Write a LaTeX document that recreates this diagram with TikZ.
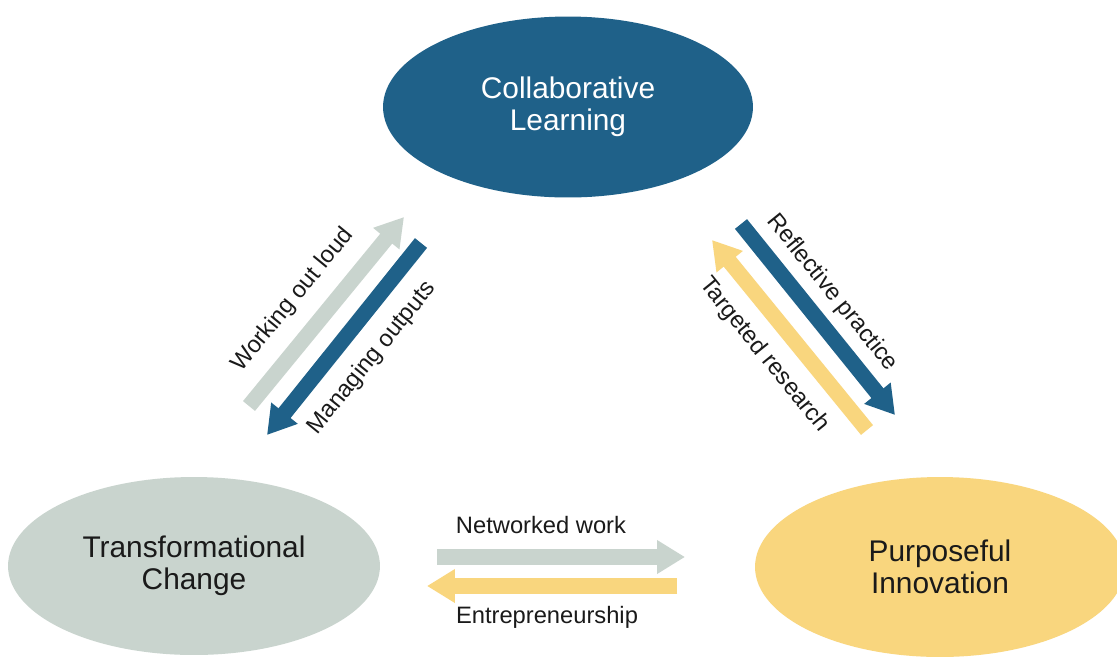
\documentclass[tikz,border=0pt]{standalone}
\usepackage{fontspec}
\setmainfont{Liberation Sans}
\usetikzlibrary{arrows.meta,shapes.geometric}
\definecolor{clblue}{HTML}{1F6189}
\definecolor{tcgrey}{HTML}{C9D4CE}
\definecolor{piyellow}{HTML}{F9D67E}
\definecolor{txtblack}{HTML}{1A1A1A}
\begin{document}
\begin{tikzpicture}
		[	x=0.02cm,y=-0.02cm,
		field/.style={ellipse,draw=none,inner sep=0pt,minimum width=7.4cm,minimum height=3.62cm,align=center,font=\fontsize{17}{18.2}\selectfont},
		flow/.style={line width=0.31cm,-{Triangle[width=0.64cm,length=0.56cm]}},
		lbl/.style={draw=none,fill=none,inner sep=0pt,text=txtblack,font=\fontsize{13.5}{15}\selectfont}
		]
		\clip (0,0) rectangle (1117,657);
		\fill[white] (0,0) rectangle (1117,657);

		\node[field,fill=clblue,text=white] (cl) at (568,107){Collaborative\\Learning};
		\node[field,fill=tcgrey,text=txtblack,minimum width=7.44cm,minimum height=3.56cm] (tc) at (194,566){Transformational\\Change};
		\node[field,fill=piyellow,text=txtblack,minimum height=3.6cm] (pi) at (940,567){Purposeful\\Innovation};

		% arrow ends
		\coordinate (wol-s) at (249,406); \coordinate (wol-e) at (404,217);
		\coordinate (mo-s) at (421,243); \coordinate (mo-e) at (267,435);
		\coordinate (rp-s) at (741,224); \coordinate (rp-e) at (895,415);
		\coordinate (tr-s) at (867,430); \coordinate (tr-e) at (712,240);
		\coordinate (nw-s) at (437,557); \coordinate (nw-e) at (685,557);
		\coordinate (en-s) at (677,586); \coordinate (en-e) at (427,586);

		\draw[flow,tcgrey] (wol-s) -- (wol-e);
		\draw[flow,clblue] (mo-s) -- (mo-e);
		\draw[flow,clblue] (rp-s) -- (rp-e);
		\draw[flow,piyellow] (tr-s) -- (tr-e);
		\draw[flow,tcgrey] (nw-s) -- (nw-e);
		\draw[flow,piyellow] (en-s) -- (en-e);

\node[lbl,rotate=50.6] (wol) at (293,300){Working out loud};
\node[lbl,rotate=51] (mo) at (372,358){Managing outputs};
\node[lbl,rotate=-51] (rp) at (832,293){Reflective practice};
\node[lbl,rotate=-51] (tr) at (764,355){Targeted research};
\node[lbl] (nw) at (541,525){Networked work};
\node[lbl,anchor=base] (en) at (547,623){Entrepreneurship};
	\end{tikzpicture}
\end{document}
